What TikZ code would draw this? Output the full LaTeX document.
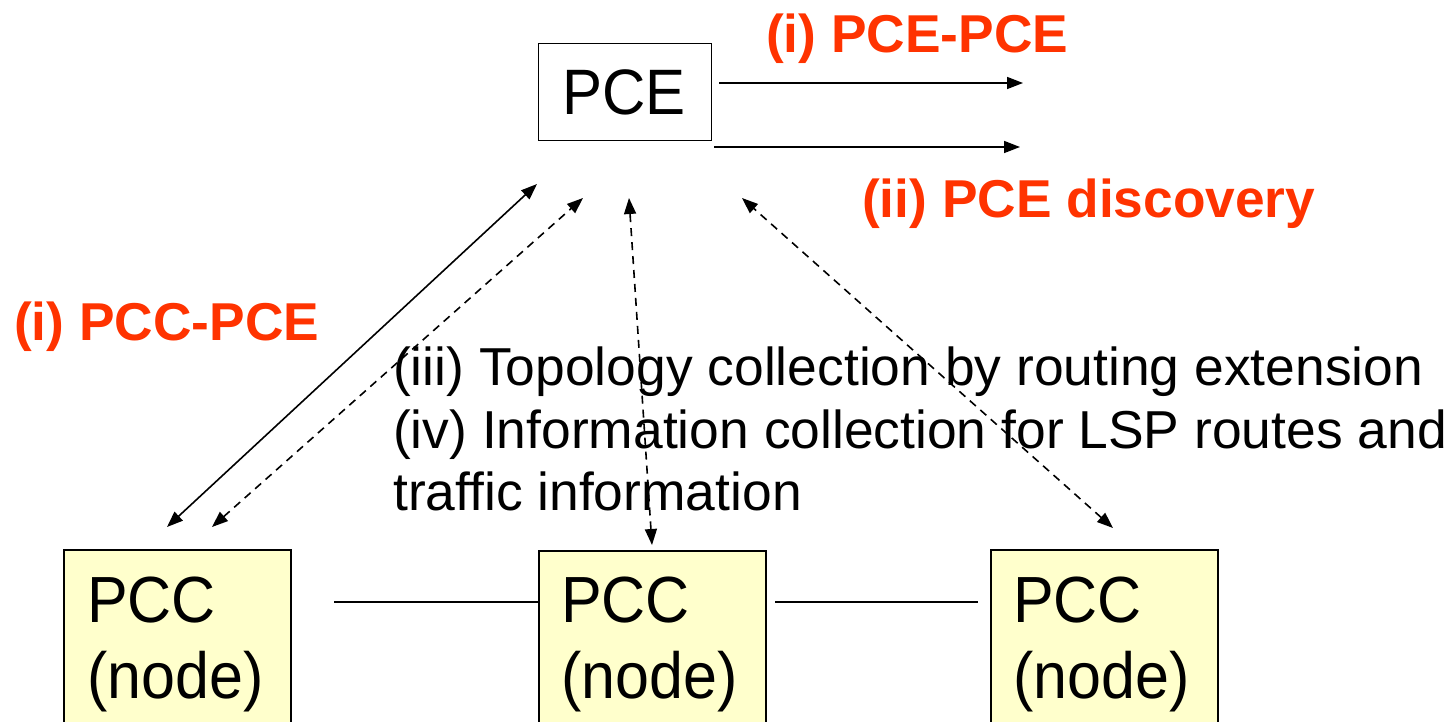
\documentclass[tikz,border=0pt]{standalone}
\usepackage{fontspec}
\setmainfont{Liberation Sans}
\usetikzlibrary{arrows.meta}
\definecolor{labelred}{HTML}{FF3300}
\definecolor{nodefill}{HTML}{FFFFCC}
\newcommand{\tallbox}[1]{\scalebox{1}[1.07]{#1}}
\begin{document}
\begin{tikzpicture}[x=1pt,y=-1pt,
  box/.style={draw=black, line width=1.8pt, inner sep=0pt},
  pccbox/.style={box, fill=nodefill, minimum width=227pt, minimum height=260pt, anchor=north west},
  txt/.style={inner sep=0pt, anchor=base west},
  redlabel/.style={txt, text=labelred, font=\bfseries\fontsize{53.3}{60}\selectfont},
  bodytext/.style={txt, font=\fontsize{53.4}{63}\selectfont},
  boxtext/.style={txt, font=\fontsize{61}{70}\selectfont},
  onearrow/.style={line width=1.6pt, -{Triangle[length=16pt,width=12pt]}},
  twoarrow/.style={line width=1.6pt, {Triangle[length=16pt,width=12pt]}-{Triangle[length=16pt,width=12pt]}},
  dasharrow/.style={twoarrow, dash pattern=on 8pt off 6pt},
  link/.style={line width=1.6pt}]
\useasboundingbox (0,0) rectangle (1452,722);

% Path computation element
\node[box, minimum width=173pt, minimum height=97pt] (pce) at (625,92) {};
\node[txt, font=\fontsize{60}{70}\selectfont] (pcetext) at (562,115) {\tallbox{PCE}};

% Path computation clients
\node[pccbox] (pccA) at (63,549) {};
\node[pccbox] (pccB) at (538,550) {};
\node[pccbox] (pccC) at (990,549) {};
\node[boxtext] (pccAt) at (87,622) {\tallbox{PCC}};
\node[boxtext] (pccAn) at (87,698) {\tallbox{(node)}};
\node[boxtext] (pccBt) at (561,622) {\tallbox{PCC}};
\node[boxtext] (pccBn) at (561,698) {\tallbox{(node)}};
\node[boxtext] (pccCt) at (1013,622) {\tallbox{PCC}};
\node[boxtext] (pccCn) at (1013,698) {\tallbox{(node)}};

% Labels
\node[redlabel] (lpcepce) at (766,53) {(i) PCE-PCE};
\node[redlabel] (ldisc) at (862,218) {(ii) PCE discovery};
\node[redlabel] (lpccpce) at (14,340) {(i) PCC-PCE};
\node[bodytext] (info1) at (393,385) {(iii) Topology collection by routing extension};
\node[bodytext] (info2) at (393,448) {(iv) Information collection for LSP routes and};
\node[bodytext] (info3) at (393,510) {traffic information};

% Arrow end points
\coordinate (pcepceA) at (719,83);
\coordinate (pcepceB) at (1023,83);
\coordinate (discA) at (714,147);
\coordinate (discB) at (1020,147);
\coordinate (reqTop) at (537,184);
\coordinate (reqBot) at (167,527);
\coordinate (topoATop) at (583,198);
\coordinate (topoABot) at (212,527);
\coordinate (topoBTop) at (629,198);
\coordinate (topoBBot) at (652,545);
\coordinate (topoCTop) at (742,198);
\coordinate (topoCBot) at (1113,528);
\coordinate (linkAstart) at (334,602);
\coordinate (linkCstart) at (775,602);
\coordinate (linkCend) at (978,602);

% Connectors
\draw[onearrow] (pcepceA) -- (pcepceB);
\draw[onearrow] (discA) -- (discB);
\draw[twoarrow] (reqBot) -- (reqTop);
\draw[dasharrow] (topoABot) -- (topoATop);
\draw[dasharrow] (topoBBot) -- (topoBTop);
\draw[dasharrow] (topoCBot) -- (topoCTop);
\draw[link] (linkAstart) -- (linkAstart -| pccB.west);
\draw[link] (linkCstart) -- (linkCend);
\end{tikzpicture}
\end{document}
